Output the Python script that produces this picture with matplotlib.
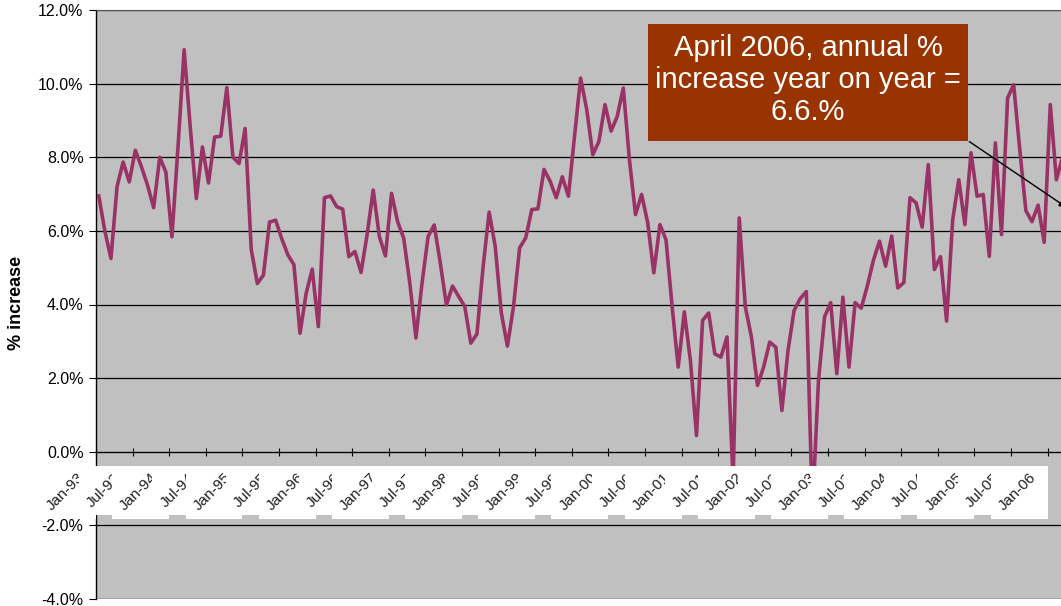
import numpy as np
import matplotlib
matplotlib.use('Agg')
import matplotlib.pyplot as plt
from matplotlib.patches import Rectangle
from matplotlib.transforms import IdentityTransform

plt.rcParams['font.family'] = ['Liberation Sans', 'DejaVu Sans']

# monthly annual % increase, Jan-93 .. Apr-06
pct = [6.95, 6.0, 5.25, 7.2, 7.87, 7.33, 8.19, 7.74, 7.24, 6.63, 8.0, 7.6,
       5.84, 8.3, 10.92, 8.82, 6.88, 8.28, 7.3, 8.55, 8.57, 9.89, 8.0, 7.83,
       8.78, 5.5, 4.57, 4.8, 6.24, 6.29, 5.79, 5.35, 5.08, 3.22, 4.3, 4.96,
       3.4, 6.9, 6.95, 6.66, 6.59, 5.3, 5.44, 4.87, 5.9, 7.11, 5.85, 5.32,
       7.02, 6.25, 5.8, 4.58, 3.09, 4.58, 5.85, 6.16, 5.12, 3.99, 4.5, 4.22,
       3.95, 2.95, 3.2, 5.0, 6.51, 5.58, 3.77, 2.87, 3.95, 5.54, 5.81, 6.58,
       6.6, 7.67, 7.35, 6.9, 7.47, 6.94, 8.57, 10.15, 9.3, 8.07, 8.43, 9.43,
       8.71, 9.11, 9.88, 7.94, 6.44, 6.99, 6.22, 4.86, 6.17, 5.76, 3.95, 2.3,
       3.8, 2.48, 0.44, 3.57, 3.77, 2.66, 2.57, 3.12, -0.8, 6.35, 3.94, 3.12,
       1.8, 2.3, 2.98, 2.84, 1.12, 2.75, 3.84, 4.16, 4.35, -1.6, 1.94, 3.67,
       4.05, 2.12, 4.2, 2.3, 4.05, 3.9, 4.5, 5.2, 5.72, 5.04, 5.86, 4.45,
       4.6, 6.9, 6.76, 6.1, 7.8, 4.95, 5.3, 3.55, 6.3, 7.39, 6.17, 8.12,
       6.94, 6.99, 5.31, 8.39, 5.9, 9.61, 9.97, 8.2, 6.55, 6.25, 6.7, 5.69,
       9.43, 7.39, 8.0, 6.6]
months = np.arange(len(pct))

tick_labels = ['Jan-93', 'Jul-93', 'Jan-94', 'Jul-94', 'Jan-95', 'Jul-95',
               'Jan-96', 'Jul-96', 'Jan-97', 'Jul-97', 'Jan-98', 'Jul-98',
               'Jan-99', 'Jul-99', 'Jan-00', 'Jul-00', 'Jan-01', 'Jul-01',
               'Jan-02', 'Jul-02', 'Jan-03', 'Jul-03', 'Jan-04', 'Jul-04',
               'Jan-05', 'Jul-05', 'Jan-06']
y_ticks = [-4, -2, 0, 2, 4, 6, 8, 10, 12]
note = 'April 2006, annual %\nincrease year on year =\n6.6.%'

W, H = 1061, 606
fig = plt.figure(figsize=(W / 100, H / 100), dpi=100)
ax = fig.add_axes([96 / W, 7 / H, 986 / W, 589 / H])
ax.set_facecolor('#c0c0c0')

ax.plot(months, pct, color='#993366', lw=2.6, solid_joinstyle='round', zorder=3)

xt = np.arange(len(tick_labels)) * 6 - 0.45
ax.set_xlim(-0.45, 161.2)
ax.set_ylim(-4, 12)
ax.set_xticks(xt)
ax.set_yticks(y_ticks)
ax.set_yticklabels(['%.1f%%' % v for v in y_ticks])
ax.yaxis.grid(True, color='black', lw=0.9)
ax.set_axisbelow(True)

ax.spines['right'].set_visible(False)
ax.spines['top'].set_color('#555555')
ax.spines['left'].set_linewidth(1.0)
ax.spines['bottom'].set_position(('data', 0))
ax.tick_params(axis='x', direction='inout', length=6, labelbottom=False)
ax.tick_params(axis='y', direction='out', length=5, labelsize=11.5, pad=4)

fig.text(17 / W, 1 - 303 / H, '% increase', rotation=90, fontweight='bold',
         fontsize=13, ha='center', va='center')

# x labels with white boxes, drawn like excel (each one over the previous)
labs = []
for k, lab in enumerate(tick_labels):
    xp, yp = ax.transData.transform((xt[k], 0))
    t = fig.text(xp - 9, yp - 19, lab, transform=IdentityTransform(),
                 rotation=45, ha='right', va='top', fontsize=11,
                 color='#222222', zorder=11 + 2 * k)
    labs.append(t)
fig.canvas.draw()
for k, t in enumerate(labs):
    bb = t.get_window_extent()
    fig.add_artist(Rectangle((bb.x0 - 5, bb.y0 - 5), bb.width + 14, bb.height + 10,
                             transform=IdentityTransform(), facecolor='white',
                             edgecolor='none', zorder=10 + 2 * k))

# annotation box
fig.add_artist(Rectangle((648 / W, 1 - 141 / H), 320 / W, 117 / H,
                         transform=fig.transFigure, facecolor='#993300',
                         edgecolor='none', zorder=20))
fig.text(808 / W, 1 - 80 / H, note, color='white', fontsize=21, ha='center',
         va='center', linespacing=1.2, zorder=21)
ax.annotate('', xy=(months[-1], pct[-1]), xycoords='data',
            xytext=(967 / W, 1 - 140 / H), textcoords='figure fraction',
            arrowprops=dict(arrowstyle='-|>', color='black', lw=1),
            annotation_clip=False)

fig.savefig('out.png', dpi=100)
